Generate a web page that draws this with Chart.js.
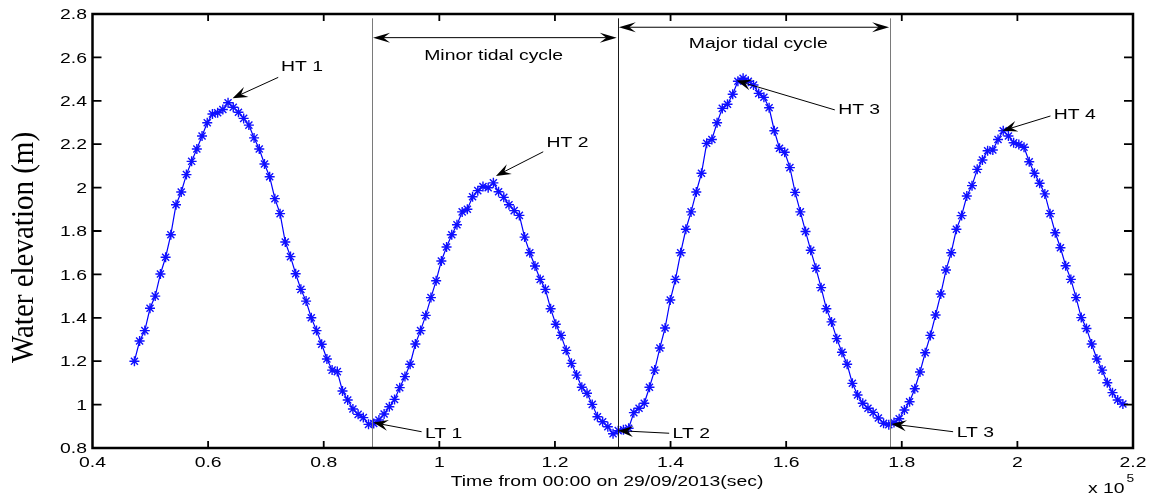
<!DOCTYPE html>
<html>
<head>
<meta charset="utf-8">
<script src="https://cdn.jsdelivr.net/npm/chart.js@4.4.1/dist/chart.umd.min.js"></script>
<style>
  html, body { margin: 0; padding: 0; background: #ffffff; }
  #c { display: block; }
</style>
</head>
<body>
<canvas id="c" width="1152" height="497"></canvas>
<script>
// Water level record, one reading every 15 minutes
const START_SEC = 47250;
const STEP_SEC = 900;

const elevation = [
  1.200, 1.293, 1.341, 1.444, 1.500, 1.602, 1.679, 1.783, 1.921, 1.980,
  2.060, 2.121, 2.178, 2.238, 2.299, 2.339, 2.345, 2.360, 2.391, 2.370,
  2.347, 2.319, 2.288, 2.229, 2.178, 2.109, 2.050, 1.949, 1.880, 1.749,
  1.682, 1.603, 1.531, 1.477, 1.400, 1.341, 1.278, 1.210, 1.159, 1.152,
  1.063, 1.021, 0.980, 0.955, 0.940, 0.909, 0.913, 0.929, 0.957, 0.990,
  1.024, 1.078, 1.129, 1.186, 1.279, 1.341, 1.411, 1.493, 1.571, 1.662,
  1.726, 1.783, 1.829, 1.888, 1.900, 1.958, 1.986, 2.005, 1.999, 2.022,
  1.981, 1.955, 1.921, 1.894, 1.872, 1.772, 1.700, 1.639, 1.577, 1.531,
  1.442, 1.370, 1.319, 1.250, 1.190, 1.136, 1.080, 1.052, 1.001, 0.944,
  0.921, 0.898, 0.866, 0.880, 0.884, 0.891, 0.963, 0.983, 1.006, 1.080,
  1.159, 1.261, 1.353, 1.482, 1.577, 1.700, 1.808, 1.888, 1.980, 2.066,
  2.204, 2.222, 2.299, 2.365, 2.384, 2.430, 2.490, 2.504, 2.490, 2.473,
  2.434, 2.416, 2.368, 2.262, 2.181, 2.163, 2.092, 1.978, 1.888, 1.798,
  1.711, 1.628, 1.539, 1.442, 1.381, 1.304, 1.241, 1.186, 1.098, 1.044,
  1.006, 0.983, 0.964, 0.938, 0.914, 0.907, 0.917, 0.935, 0.975, 1.013,
  1.073, 1.150, 1.239, 1.319, 1.413, 1.510, 1.620, 1.700, 1.808, 1.871,
  1.961, 2.009, 2.084, 2.127, 2.170, 2.173, 2.222, 2.262, 2.238, 2.207,
  2.199, 2.186, 2.119, 2.066, 2.020, 1.971, 1.880, 1.792, 1.723, 1.640,
  1.577, 1.493, 1.401, 1.351, 1.279, 1.210, 1.159, 1.101, 1.055, 1.021,
  1.003
];

// Axis ticks (time in seconds, elevation in metres)
const xTickValues = [40000, 60000, 80000, 100000, 120000, 140000, 160000, 180000, 200000, 220000];
const xTickLabels = ['0.4', '0.6', '0.8', '1', '1.2', '1.4', '1.6', '1.8', '2', '2.2'];
const yTickValues = [0.8, 1.0, 1.2, 1.4, 1.6, 1.8, 2.0, 2.2, 2.4, 2.6, 2.8];
const yTickLabels = ['0.8', '1', '1.2', '1.4', '1.6', '1.8', '2', '2.2', '2.4', '2.6', '2.8'];

const xTitle = 'Time from 00:00 on 29/09/2013(sec)';
const yTitle = 'Water elevation (m)';

// Cycle boundaries (seconds) at low waters
const cycleBounds = [88360, 130870, 177980];
const cycleBoundColors = ['#7a7a7a', '#1a1a1a', '#7a7a7a'];
const cycleSpans = [
  { text: 'Minor tidal cycle', from: 88360, to: 130870, arrowY: 2.691, labelX: 109400, labelY: 2.608 },
  { text: 'Major tidal cycle', from: 130870, to: 177980, arrowY: 2.739, labelX: 155180, labelY: 2.662 }
];

// High / low water call-outs: arrow tip, arrow tail, label anchor (left, middle)
const callouts = [
  { text: 'HT 1', tip: [64230, 2.412], tail: [72130, 2.508], at: [72600, 2.557] },
  { text: 'HT 2', tip: [109790, 2.054], tail: [117970, 2.165], at: [118550, 2.207] },
  { text: 'HT 3', tip: [151410, 2.493], tail: [168420, 2.358], at: [168990, 2.361] },
  { text: 'HT 4', tip: [197420, 2.262], tail: [205720, 2.330], at: [206300, 2.335] },
  { text: 'LT 1', tip: [88560, 0.917], tail: [96930, 0.875], at: [97500, 0.868] },
  { text: 'LT 2', tip: [130940, 0.880], tail: [139760, 0.868], at: [140350, 0.8645] },
  { text: 'LT 3', tip: [178220, 0.911], tail: [188880, 0.875], at: [189510, 0.871] }
];

const points = elevation.map((v, i) => ({ x: START_SEC + i * STEP_SEC, y: v }));

const SANS = '"Liberation Sans", Arial, Helvetica, sans-serif';
const SERIF = '"Liberation Serif", "Times New Roman", serif';
const WIDE = 1.25;

function wideText(ctx, text, x, y, align, baseline, font, sx) {
  ctx.save();
  ctx.translate(x, y);
  ctx.scale(sx, 1);
  ctx.font = font;
  ctx.textAlign = align;
  ctx.textBaseline = baseline;
  ctx.fillStyle = '#000';
  ctx.fillText(text, 0, 0);
  ctx.restore();
}

function arrowHead(ctx, tx, ty, fx, fy, len, half) {
  const a = Math.atan2(ty - fy, tx - fx);
  ctx.save();
  ctx.translate(tx, ty);
  ctx.rotate(a);
  ctx.beginPath();
  ctx.moveTo(0, 0);
  ctx.lineTo(-len, -half);
  ctx.lineTo(-len * 0.62, 0);
  ctx.lineTo(-len, half);
  ctx.closePath();
  ctx.fill();
  ctx.restore();
}

const figureFrame = {
  id: 'figureFrame',
  afterDatasetsDraw(chart) {
    const ctx = chart.ctx;
    const xs = chart.scales.x, ys = chart.scales.y;
    const { left, right, top, bottom } = chart.chartArea;
    const X = v => xs.getPixelForValue(v);
    const Y = v => ys.getPixelForValue(v);

    ctx.save();
    ctx.lineCap = 'butt';

    // cycle boundary lines
    ctx.lineWidth = 1;
    cycleBounds.forEach((b, i) => {
      ctx.strokeStyle = cycleBoundColors[i];
      const px = Math.round(X(b)) + 0.5;
      ctx.beginPath();
      ctx.moveTo(px, Y(2.78));
      ctx.lineTo(px, bottom);
      ctx.stroke();
    });

    // double arrows spanning each cycle
    ctx.strokeStyle = '#000';
    ctx.fillStyle = '#000';
    cycleSpans.forEach(s => {
      const y = Y(s.arrowY);
      const x0 = X(s.from), x1 = X(s.to);
      ctx.lineWidth = 1;
      ctx.beginPath();
      ctx.moveTo(x0 + 6, y);
      ctx.lineTo(x1 - 6, y);
      ctx.stroke();
      arrowHead(ctx, x0 + 1, y, x1, y, 17, 5);
      arrowHead(ctx, x1 - 1, y, x0, y, 17, 5);
      wideText(ctx, s.text, X(s.labelX), Y(s.labelY), 'center', 'middle', '15.5px ' + SANS, WIDE);
    });

    // call-outs
    callouts.forEach(c => {
      const tx = X(c.tip[0]), ty = Y(c.tip[1]);
      const fx = X(c.tail[0]), fy = Y(c.tail[1]);
      ctx.lineWidth = 1;
      ctx.strokeStyle = '#000';
      ctx.beginPath();
      ctx.moveTo(fx, fy);
      ctx.lineTo(tx + (fx - tx) * 0.1, ty + (fy - ty) * 0.1);
      ctx.stroke();
      arrowHead(ctx, tx, ty, fx, fy, 15, 5.5);
      wideText(ctx, c.text, X(c.at[0]), Y(c.at[1]), 'left', 'middle', '15.5px ' + SANS, WIDE);
    });

    // axes box
    ctx.strokeStyle = '#000';
    ctx.lineWidth = 2.5;
    ctx.strokeRect(left, top, right - left, bottom - top);

    // inward ticks and labels
    ctx.lineWidth = 1.8;
    xTickValues.forEach((v, i) => {
      const px = X(v);
      if (i > 0 && i < xTickValues.length - 1) {
        ctx.beginPath();
        ctx.moveTo(px, bottom); ctx.lineTo(px, bottom - 7);
        ctx.moveTo(px, top); ctx.lineTo(px, top + 7);
        ctx.stroke();
      }
      wideText(ctx, xTickLabels[i], px, bottom + 19, 'center', 'alphabetic', '15.5px ' + SANS, WIDE);
    });
    yTickValues.forEach((v, i) => {
      const py = Y(v);
      if (i > 0 && i < yTickValues.length - 1) {
        ctx.beginPath();
        ctx.moveTo(left, py); ctx.lineTo(left + 9, py);
        ctx.moveTo(right, py); ctx.lineTo(right - 9, py);
        ctx.stroke();
      }
      wideText(ctx, yTickLabels[i], left - 5.5, py + 1, 'right', 'middle', '15.5px ' + SANS, WIDE);
    });

    // axis titles and exponent
    wideText(ctx, xTitle, 607, 486, 'center', 'alphabetic', '15.5px ' + SANS, WIDE);
    wideText(ctx, 'x 10', 1088, 493, 'left', 'alphabetic', '15.5px ' + SANS, WIDE);
    wideText(ctx, '5', 1126.5, 482, 'left', 'alphabetic', '11px ' + SANS, WIDE);

    ctx.save();
    ctx.translate(33, 247.5);
    ctx.rotate(-Math.PI / 2);
    ctx.scale(1, 1.12);
    ctx.font = '29px ' + SERIF;
    ctx.textAlign = 'center';
    ctx.textBaseline = 'alphabetic';
    ctx.fillStyle = '#000';
    ctx.fillText(yTitle, 0, 0);
    ctx.restore();

    ctx.restore();
  }
};

new Chart(document.getElementById('c'), {
  type: 'scatter',
  data: {
    datasets: [{
      data: points,
      showLine: true,
      borderColor: '#0000ff',
      borderWidth: 1.2,
      pointStyle: 'star',
      pointRadius: 5,
      pointBorderColor: '#1010ff',
      pointBackgroundColor: '#1010ff',
      pointBorderWidth: 1.4,
      tension: 0
    }]
  },
  options: {
    responsive: false,
    devicePixelRatio: 1,
    animation: false,
    layout: { padding: { left: 92.5, right: 19, top: 14, bottom: 49 } },
    plugins: { legend: { display: false }, tooltip: { enabled: false } },
    scales: {
      x: { type: 'linear', min: 40000, max: 220000, display: false },
      y: { type: 'linear', min: 0.8, max: 2.8, display: false }
    }
  },
  plugins: [figureFrame]
});
</script>
</body>
</html>
